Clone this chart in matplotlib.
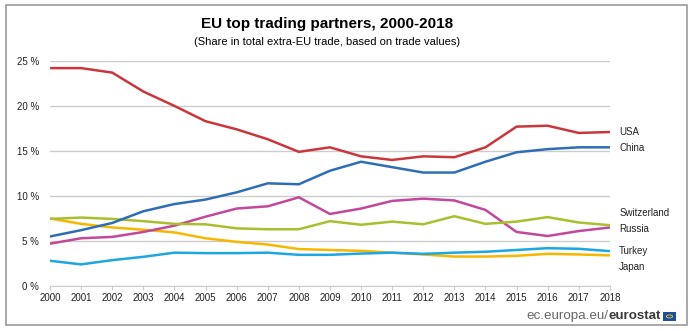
import numpy as np
import matplotlib.pyplot as plt
from matplotlib.patches import Rectangle, Circle

years = np.arange(2000, 2019)
usa = [24.2, 24.2, 23.7, 21.6, 20.0, 18.3, 17.4, 16.3, 14.9, 15.4, 14.4, 14.0, 14.4, 14.3, 15.4, 17.7, 17.8, 17.0, 17.1]
china = [5.5, 6.2, 7.0, 8.3, 9.1, 9.6, 10.4, 11.4, 11.3, 12.8, 13.8, 13.2, 12.6, 12.6, 13.8, 14.85, 15.2, 15.4, 15.4]
switzerland = [7.45, 7.6, 7.45, 7.2, 6.9, 6.85, 6.4, 6.3, 6.3, 7.2, 6.8, 7.15, 6.85, 7.75, 6.9, 7.15, 7.65, 7.05, 6.75]
russia = [4.7, 5.3, 5.45, 6.0, 6.7, 7.7, 8.6, 8.85, 9.85, 8.0, 8.6, 9.45, 9.7, 9.5, 8.45, 6.0, 5.55, 6.1, 6.5]
turkey = [2.8, 2.4, 2.87, 3.24, 3.7, 3.65, 3.65, 3.7, 3.46, 3.46, 3.6, 3.7, 3.57, 3.7, 3.8, 4.0, 4.2, 4.13, 3.87]
japan = [7.5, 6.9, 6.5, 6.25, 5.95, 5.3, 4.9, 4.6, 4.1, 4.0, 3.9, 3.7, 3.5, 3.27, 3.27, 3.35, 3.57, 3.5, 3.4]

# name, values, colour, label y (%)
series = [
    ("USA", usa, "#C9373C", 17.1),
    ("China", china, "#2F6DB5", 15.3),
    ("Switzerland", switzerland, "#A9BF2E", 8.15),
    ("Russia", russia, "#C1489B", 6.35),
    ("Turkey", turkey, "#1DA7E0", 3.85),
    ("Japan", japan, "#F5B700", 2.1),
]

plt.rcParams['font.family'] = ['Liberation Sans', 'DejaVu Sans']

fig = plt.figure(figsize=(6.92, 3.31), dpi=100)
fig.patches.append(Rectangle((0.008, 0.018), 0.985, 0.966, transform=fig.transFigure,
                             fill=False, edgecolor="#9a9a9a", linewidth=1.2))

ax = fig.add_axes([0.0723, 0.136, 0.809, 0.68])
for name, vals, col, ly in reversed(series):
    ax.plot(years, vals, color=col, linewidth=1.8)
    ax.text(2018.3, ly, name, fontsize=7, va="center", ha="left", color="#222222")

ax.set_xlim(2000, 2018)
ax.set_ylim(0, 25)
ax.set_yticks(range(0, 26, 5))
ax.set_yticklabels([f"{v} %" for v in range(0, 26, 5)])
ax.set_xticks(years)
ax.grid(axis="y", color="#cccccc", linewidth=1)
ax.set_axisbelow(True)
for s in ["top", "right", "left"]:
    ax.spines[s].set_visible(False)
ax.spines["bottom"].set_color("#cccccc")
ax.tick_params(axis="y", length=0, labelsize=7, pad=8, labelcolor="#222222")
ax.tick_params(axis="x", length=3, color="#cccccc", labelsize=7, pad=2, labelcolor="#222222")

fig.text(0.4725, 0.927, "EU top trading partners, 2000-2018", ha="center", va="center",
         fontsize=11, fontweight="bold")
fig.text(0.4725, 0.874, "(Share in total extra-EU trade, based on trade values)", ha="center",
         va="center", fontsize=8)

# footer
fig.text(0.879, 0.045, "ec.europa.eu/", ha="right", va="center", fontsize=9.6, color="#666666")
fig.text(0.879, 0.045, "eurostat", ha="left", va="center", fontsize=9.6,
         color="#3a3a3a", fontweight="bold")
fig.patches.append(Rectangle((0.958, 0.030), 0.019, 0.028, transform=fig.transFigure,
                             facecolor="#1f4e9c", edgecolor="none"))
fig.patches.append(Circle((0.9675, 0.044), 0.0045, transform=fig.transFigure,
                          fill=False, edgecolor="#f2d21a", linewidth=0.6))

fig.savefig("out.png", dpi=100)
